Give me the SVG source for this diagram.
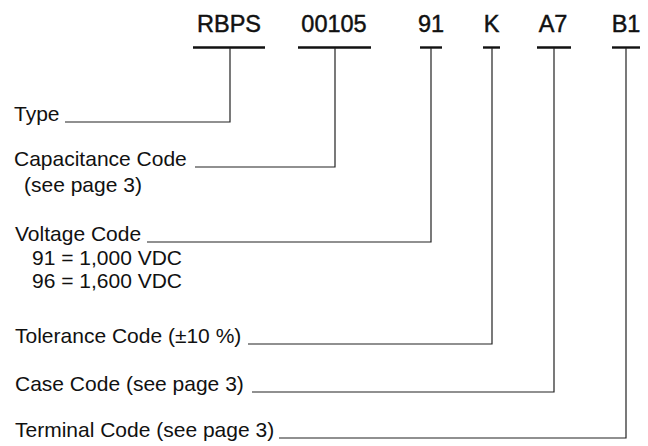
<svg xmlns="http://www.w3.org/2000/svg" width="648" height="446" viewBox="0 0 648 446">
<style>
.hdr{font-family:"Liberation Sans",Arial,sans-serif;font-size:23.5px;fill:#111;stroke:#111;stroke-width:0.45;text-anchor:middle}
.lbl{font-family:"Liberation Sans",Arial,sans-serif;font-size:21px;fill:#111}
.ul{stroke:#111;stroke-width:2.4;fill:none}
.ln{stroke:#222;stroke-width:1.2;fill:none}
</style>
<rect width="648" height="446" fill="#fff"/>
<g id="code-RBPS"><text class="hdr" x="229" y="32">RBPS</text><line class="ul" x1="193" y1="47.5" x2="265" y2="47.5"/></g>
<g id="code-00105"><text class="hdr" x="334" y="32">00105</text><line class="ul" x1="298" y1="47.5" x2="371" y2="47.5"/></g>
<g id="code-91"><text class="hdr" x="431" y="32">91</text><line class="ul" x1="420" y1="47.5" x2="442" y2="47.5"/></g>
<g id="code-K"><text class="hdr" x="491.5" y="32">K</text><line class="ul" x1="483" y1="47.5" x2="500" y2="47.5"/></g>
<g id="code-A7"><text class="hdr" x="553" y="32">A7</text><line class="ul" x1="537" y1="47.5" x2="571" y2="47.5"/></g>
<g id="code-B1"><text class="hdr" x="626" y="32">B1</text><line class="ul" x1="612" y1="47.5" x2="640" y2="47.5"/></g>
<g id="label-type"><text class="lbl" x="14" y="121">Type</text></g>
<g id="label-capacitance"><text class="lbl" x="14" y="166">Capacitance Code</text><text class="lbl" x="24" y="192">(see page 3)</text></g>
<g id="label-voltage"><text class="lbl" x="15" y="241">Voltage Code</text><text class="lbl" x="32" y="265">91 = 1,000 VDC</text><text class="lbl" x="32" y="288">96 = 1,600 VDC</text></g>
<g id="label-tolerance"><text class="lbl" x="15" y="343">Tolerance Code (±10 %)</text></g>
<g id="label-case"><text class="lbl" x="15" y="391">Case Code (see page 3)</text></g>
<g id="label-terminal"><text class="lbl" x="15" y="437">Terminal Code (see page 3)</text></g>
<g id="connectors">
<polyline class="ln" points="65,122 230,122 230,48"/>
<polyline class="ln" points="195,167 335,167 335,48"/>
<polyline class="ln" points="147,242 431,242 431,48"/>
<polyline class="ln" points="248,344 492,344 492,48"/>
<polyline class="ln" points="252,392 554,392 554,48"/>
<polyline class="ln" points="279,438 626,438 626,48"/>
</g>
</svg>
